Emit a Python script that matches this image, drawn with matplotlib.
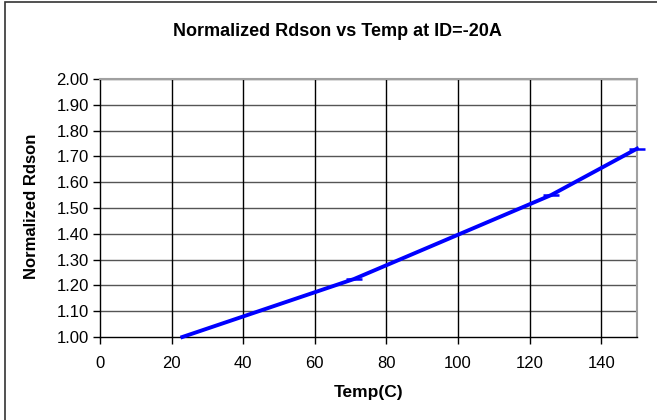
import matplotlib
matplotlib.use("Agg")
import matplotlib.pyplot as plt
from matplotlib.patches import Rectangle

plt.rcParams["font.family"] = ["Liberation Sans", "DejaVu Sans"]

# values
temp_c = [23, 71, 126, 150]
rdson_norm = [1.00, 1.225, 1.55, 1.73]

x_ticks = [0, 20, 40, 60, 80, 100, 120, 140]
y_ticks = [1.00, 1.10, 1.20, 1.30, 1.40, 1.50, 1.60, 1.70, 1.80, 1.90, 2.00]

title = "Normalized Rdson vs Temp at ID=-20A"
x_label = "Temp(C)"
y_label = "Normalized Rdson"

W, H = 657, 420
fig = plt.figure(figsize=(W / 100, H / 100), dpi=100)
fig.patch.set_facecolor("white")

# outer chart border (only left/top visible in reference)
fig.patches.append(Rectangle((5 / W, -0.1), 1.2, 1 - 2 / H + 0.1, transform=fig.transFigure,
                             fill=False, edgecolor="#333333", linewidth=1.2))

ax = fig.add_axes([100 / W, 1 - 337 / H, (637 - 100) / W, (337 - 79) / H])
ax.set_xlim(0, 150)
ax.set_ylim(1.0, 2.0)
ax.set_xticks(x_ticks)
ax.set_yticks(y_ticks)
ax.set_yticklabels([f"{v:.2f}" for v in y_ticks])

for v in y_ticks[1:]:
    ax.axhline(v, color="#555555", linewidth=1.0, zorder=1)
for v in x_ticks[1:]:
    ax.axvline(v, color="black", linewidth=1.0, zorder=1)

ax.plot(temp_c, rdson_norm, color="#0000ff", linewidth=2.8, marker="_",
        markersize=11, markeredgewidth=1.8, markevery=[1, 2, 3],
        clip_on=False, zorder=3)

for side in ("top", "right"):
    ax.spines[side].set_color("#a0a0a0")
    ax.spines[side].set_linewidth(1.5)
for side in ("left", "bottom"):
    ax.spines[side].set_color("black")
    ax.spines[side].set_linewidth(1.0)

ax.tick_params(axis="both", direction="out", length=5, width=1.0, labelsize=12, color="black")
ax.tick_params(axis="x", pad=9)
ax.tick_params(axis="y", pad=3)

fig.text(337 / W, 1 - 32 / H, title, ha="center", va="center", fontsize=13, fontweight="bold")
fig.text(369 / W, 1 - 393 / H, x_label, ha="center", va="center", fontsize=12.5, fontweight="bold")
fig.text(32 / W, 1 - 206 / H, y_label, ha="center", va="center", rotation=90,
         fontsize=12, fontweight="bold")

fig.savefig("out.png", dpi=100, facecolor="white")
